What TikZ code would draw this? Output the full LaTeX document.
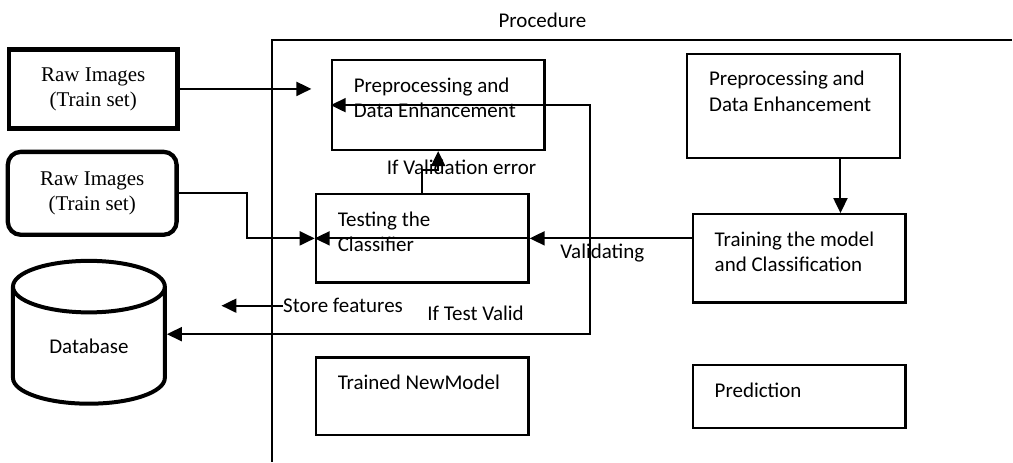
\documentclass[tikz,border=0pt]{standalone}
\usepackage{fontspec}
\setmainfont{Carlito}
\newfontfamily\rawfont{Liberation Serif}
\usetikzlibrary{arrows.meta,shapes.geometric}

\begin{document}
\begin{tikzpicture}[x=1pt, y=-1pt, inner sep=0pt, >={Triangle[length=15pt,width=14pt]}]
		\tikzstyle{every node}=[font=\fontsize{21}{25.6}\selectfont]
		\tikzstyle{box}=[draw, line width=2.2pt, anchor=north west, align=flush left, text width=169pt, inner xsep=22pt, text height=32pt]
		\tikzstyle{rawbox}=[draw, line width=4.3pt, minimum width=169pt, minimum height=79pt, align=center, font=\rawfont\fontsize{21}{25}\selectfont]
		\tikzstyle{flow}=[->, line width=2pt]
			\path[fill=white] (0, 0) rectangle (1013, 462);

			\node (proc) at (543, 20) {Procedure};
			\draw[line width=2pt] (1013, 40) -- (272.3, 40) -- (272.3, 462);

			\node[rawbox] (raw1) at (93.3, 89) {Raw Images\\(Train set)};
			\node[rawbox, rounded corners=13pt, minimum height=83pt] (raw2) at (92.3, 193.5) {Raw Images\\(Train set)};
			\node[draw, line width=4pt, cylinder, shape border rotate=90, aspect=0.65, minimum width=152pt, minimum height=143pt] (db) at (89, 346.5) {Database};

			\node[box, text depth=57.7pt] (pre1) at (331, 59.3) {Preprocessing and\\Data Enhancement};
			\node[box, text depth=56.4pt] (test) at (315, 193.3) {Testing the\\Classifier};
			\node[box, text depth=45.6pt] (trained) at (315, 356.7) {Trained NewModel};
			\node[box, text depth=72.6pt] (pre2) at (686.7, 52.7) {Preprocessing and\\Data Enhancement};
			\node[box, text depth=56.4pt] (train) at (692.3, 213.3) {Training the model\\and Classification};
			\node[box, text depth=31.4pt] (pred) at (692.3, 364.3) {Prediction};

			\node (valerr) at (462, 167) {If Validation error};
			\node (valid) at (603, 253) {Validating};
			\node (testok) at (476, 314) {If Test Valid};
			\node (store) at (343.4, 306) {Store features};
			\coordinate (rawtip) at (311.7, 89);
			\coordinate (storetip) at (221.7, 306);
			\coordinate (loop) at (590.7, 334.5);

			\draw[flow] (raw1.east) -- (rawtip);
			\draw[flow] (raw2.east) -- ++(68.7, 0) |- (test.west);
			\draw[flow] (train.west |- test.east) -- (test.east);
			\draw[flow] (test.east) -- (test.west);
			\draw[flow] (test.north) -- ++(0, -23) -| (pre1.south);
			\draw[flow, <->] (pre1.west) -| (loop) -- (db.east |- loop);
			\draw[flow] (store.west) -- (storetip);
			\draw[flow] ([xshift=47pt]pre2.south) -- ([xshift=47pt]pre2.south |- train.north);
		\end{tikzpicture}
\end{document}
